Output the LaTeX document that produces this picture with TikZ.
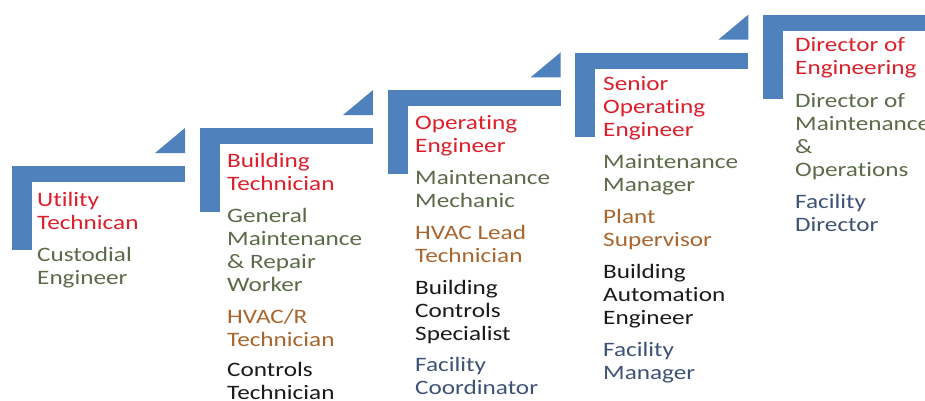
\documentclass[tikz,border=0pt]{standalone}
\usepackage{fontspec}
\setmainfont{Carlito}[FakeStretch=1.23, Ligatures=NoCommon]
\usepackage{xcolor}
\definecolor{stepblue}{HTML}{4F81BD}
\definecolor{titlered}{HTML}{DC1F2B}
\definecolor{jobgreen}{HTML}{5B6A48}
\definecolor{jobbrown}{HTML}{A9652E}
\definecolor{jobslate}{HTML}{3E5276}
\definecolor{jobblack}{HTML}{1A1A1A}

\begin{document}
\begin{tikzpicture}[x=1pt, y=-1pt,
    stepbar/.style={fill=stepblue},
    career/.style={anchor=base west, align=left, inner sep=0pt,
        font=\fontsize{20.5}{23}\selectfont}]
    \useasboundingbox (0,0) rectangle (925,401);
    \clip (0,0) rectangle (925,401);

    % Marches : barre horizontale, montant gauche et petit triangle
    \foreach \k in {0,...,4} {
        \begin{scope}[shift={(12+187.8*\k,166-37.8*\k)}]
            \fill[stepbar] (0,0) rectangle (173,16);
            \fill[stepbar] (0,0) rectangle (20,84);
            \ifnum\k<4
                \fill[stepbar] (143,-13) -- (173,-13) -- (173,-38) -- cycle;
            \fi
        \end{scope}
    }

    % Postes de chaque marche (ancre = ligne de base de la derniere ligne)
    \node[career, text=titlered] (utility)   at (37,229)  {Utility\\Technican};
    \node[career, text=jobgreen] (custodial) at (37,284)  {Custodial\\Engineer};

    \node[career, text=titlered] (buildtech) at (227,190.5) {Building\\Technician};
    \node[career, text=jobgreen] (repair)    at (227,291.5) {General\\Maintenance\\\& Repair\\Worker};
    \node[career, text=jobbrown] (hvacr)     at (227,346.5) {HVAC/R\\Technician};
    \node[career, text=jobblack] (ctrltech)  at (227,399) {Controls\\Technician};

    \node[career, text=titlered] (operating) at (415,152) {Operating\\Engineer};
    \node[career, text=jobgreen] (mechanic)  at (415,207) {Maintenance\\Mechanic};
    \node[career, text=jobbrown] (hvaclead)  at (415,262) {HVAC Lead\\Technician};
    \node[career, text=jobblack] (ctrlspec)  at (415,340) {Building\\Controls\\Specialist};
    \node[career, text=jobslate] (faccoord)  at (415,394) {Facility\\Coordinator};

    \node[career, text=titlered] (senior)    at (603,136.5) {Senior\\Operating\\Engineer};
    \node[career, text=jobgreen] (maintmgr)  at (603,191.5) {Maintenance\\Manager};
    \node[career, text=jobbrown] (plant)     at (603,246.5) {Plant\\Supervisor};
    \node[career, text=jobblack] (automation) at (603,324.5) {Building\\Automation\\Engineer};
    \node[career, text=jobslate] (facmgr)    at (603,379.5) {Facility\\Manager};

    \node[career, text=titlered] (direng)    at (795,75)  {Director of\\Engineering};
    \node[career, text=jobgreen] (dirmaint)  at (795,176) {Director of\\Maintenance\\\&\\Operations};
    \node[career, text=jobslate] (facdir)    at (795,231) {Facility\\Director};

\end{tikzpicture}
\end{document}
